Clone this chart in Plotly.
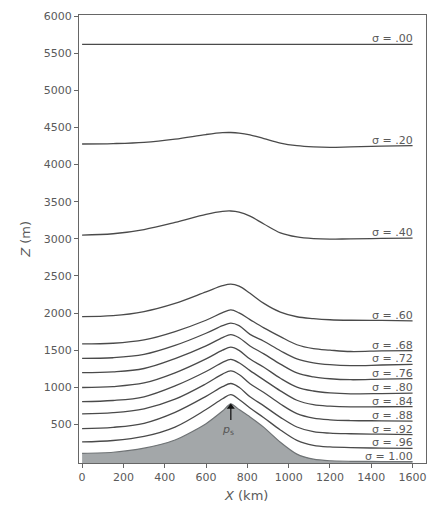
import plotly.graph_objects as go

# ---- data ----
X = [0, 150, 300, 450, 600, 680, 720, 760, 813, 880, 960, 1040, 1120, 1200, 1300, 1450, 1600]

ground = [110, 125, 180, 290, 510, 680, 776, 700, 600, 460, 260, 100, 32, 10, 3, 0, 0]
s096 = [264, 283, 338, 464, 700, 845, 900, 835, 720, 590, 425, 285, 218, 196, 188, 180, 176]
s092 = [443, 461, 515, 662, 878, 1008, 1051, 1000, 872, 750, 595, 465, 402, 382, 374, 368, 362]
s088 = [642, 658, 710, 840, 1048, 1178, 1220, 1172, 1048, 930, 775, 645, 585, 562, 552, 548, 544]
s084 = [807, 822, 872, 1018, 1212, 1335, 1376, 1330, 1224, 1100, 952, 825, 765, 745, 736, 738, 740]
s080 = [997, 1010, 1058, 1195, 1383, 1500, 1540, 1497, 1380, 1270, 1122, 1003, 950, 925, 912, 915, 922]
s076 = [1197, 1208, 1253, 1387, 1558, 1670, 1709, 1667, 1557, 1450, 1312, 1193, 1140, 1115, 1102, 1110, 1117]
s072 = [1389, 1398, 1443, 1564, 1728, 1830, 1864, 1830, 1713, 1620, 1492, 1383, 1330, 1305, 1292, 1300, 1309]
s068 = [1584, 1593, 1638, 1751, 1903, 2005, 2042, 2002, 1912, 1800, 1682, 1573, 1520, 1500, 1482, 1490, 1495]
s060 = [1953, 1965, 2020, 2130, 2285, 2368, 2390, 2362, 2266, 2130, 2012, 1950, 1925, 1910, 1903, 1900, 1895]
s040 = [3050, 3068, 3125, 3220, 3330, 3370, 3375, 3360, 3305, 3200, 3080, 3025, 3002, 2995, 3000, 3005, 3010]
s020 = [4277, 4283, 4300, 4343, 4405, 4430, 4432, 4425, 4400, 4350, 4290, 4255, 4238, 4232, 4238, 4248, 4255]
s000 = [5620] * len(X)

levels = [s000, s020, s040, s060, s068, s072, s076, s080, s084, s088, s092, s096]
labels = ["σ = .00", "σ = .20", "σ = .40", "σ = .60", "σ = .68", "σ = .72", "σ = .76",
          "σ = .80", "σ = .84", "σ = .88", "σ = .92", "σ = .96"]
ground_label = "σ = 1.00"
peak_index = 6
arrow_tail = 560

x_ticks = [0, 200, 400, 600, 800, 1000, 1200, 1400, 1600]
y_ticks = [500, 1000, 1500, 2000, 2500, 3000, 3500, 4000, 4500, 5000, 5500, 6000]

LINE = "#4a4a4a"
TXT = "#5a5a5a"
FONT = "DejaVu Sans"

fig = go.Figure()

# ground (sigma = 1.00) filled
fig.add_trace(go.Scatter(x=X, y=[-20] * len(X), mode="lines",
                         line=dict(width=0), showlegend=False, hoverinfo="skip"))
fig.add_trace(go.Scatter(x=X, y=ground, mode="lines", fill="tonexty",
                         fillcolor="#a3a7a9",
                         line=dict(color="#6f7375", width=1.2, shape="spline", smoothing=0.7),
                         showlegend=False))

for vals in levels:
    fig.add_trace(go.Scatter(x=X, y=vals, mode="lines",
                             line=dict(color=LINE, width=1.3, shape="spline", smoothing=1.0),
                             showlegend=False))

# p_s arrow (line + head)
px_ = X[peak_index]
fig.add_trace(go.Scatter(x=[px_, px_], y=[arrow_tail, ground[peak_index] - 40], mode="lines",
                         line=dict(color="#222", width=1.4), showlegend=False, hoverinfo="skip"))
fig.add_trace(go.Scatter(x=[px_], y=[ground[peak_index] - 40], mode="markers",
                         marker=dict(symbol="triangle-up", size=7, color="#111"),
                         showlegend=False, hoverinfo="skip"))

annotations = []
for vals, lab in zip(levels, labels):
    annotations.append(dict(x=1612, y=vals[-1], xref="x", yref="y", text=lab,
                            showarrow=False, xanchor="right", yanchor="bottom", yshift=-3,
                            font=dict(family=FONT, size=11, color=TXT)))
annotations.append(dict(x=1612, y=ground[-1], xref="x", yref="y", text=ground_label,
                        showarrow=False, xanchor="right", yanchor="bottom", yshift=-3,
                        font=dict(family=FONT, size=11, color=TXT)))

annotations.append(dict(x=705, y=430, xref="x", yref="y",
                        text="<i>p</i><sub>s</sub>", showarrow=False,
                        xanchor="center", yanchor="middle",
                        font=dict(family=FONT, size=11, color="#555")))

# axis titles
annotations.append(dict(x=0.48, y=-0.072, xref="paper", yref="paper",
                        text="<i>X</i> (km)", showarrow=False,
                        xanchor="center", yanchor="middle",
                        font=dict(family=FONT, size=13, color=TXT)))
annotations.append(dict(x=-0.156, y=0.5, xref="paper", yref="paper",
                        text="<i>Z</i> (m)", showarrow=False, textangle=-90,
                        xanchor="center", yanchor="middle",
                        font=dict(family=FONT, size=13, color=TXT)))

fig.update_layout(
    width=441, height=508,
    margin=dict(l=79, r=15, t=10, b=45),
    paper_bgcolor="white", plot_bgcolor="white",
    annotations=annotations,
    showlegend=False,
)
fig.update_xaxes(range=[-15, 1665], tickvals=x_ticks, ticktext=[str(v) for v in x_ticks],
                 showgrid=False, zeroline=False, showline=True, linecolor="#666",
                 linewidth=1.3, mirror=True, ticks="outside", ticklen=4, tickcolor="#666",
                 tickfont=dict(family=FONT, size=11, color=TXT))
fig.update_yaxes(range=[-20, 6015], tickvals=y_ticks, ticktext=[str(v) for v in y_ticks],
                 showgrid=False, zeroline=False, showline=True, linecolor="#666",
                 linewidth=1.3, mirror=True, ticks="outside", ticklen=4, tickcolor="#666",
                 tickfont=dict(family=FONT, size=11, color=TXT))

fig.write_html("out.html")
